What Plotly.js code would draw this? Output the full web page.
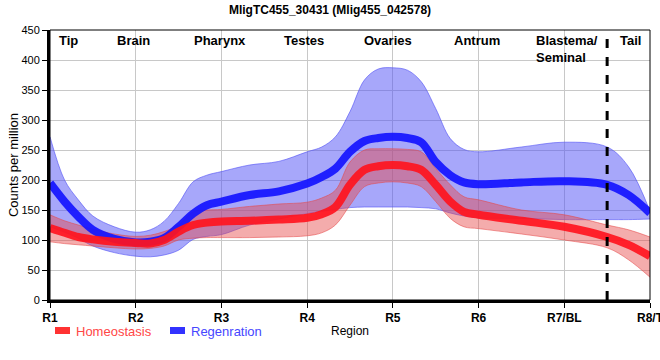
<!DOCTYPE html>
<html>
<head>
<meta charset="utf-8">
<script src="https://cdn.plot.ly/plotly-3.0.1.min.js"></script>
<style>html,body{margin:0;padding:0;background:#fff;}#chart{width:660px;height:360px;}</style>
</head>
<body>
<div id="chart"></div>
<script>
// Region positions (1 = R1 ... 8 = R8/T), sampled between regions
const xPos = [1, 1.17, 1.33, 1.5, 1.75, 2, 2.17, 2.33, 2.5, 2.67, 2.83, 3, 3.33, 3.67, 4, 4.17,
              4.33, 4.5, 4.67, 4.83, 5, 5.17, 5.33, 5.5, 5.67, 5.83, 6, 6.5, 7, 7.5, 7.75, 8];
const tickVals = [1, 2, 3, 4, 5, 6, 7, 8];
const tickLabels = ['R1', 'R2', 'R3', 'R4', 'R5', 'R6', 'R7/BL', 'R8/T'];

// Homeostasis (red)
const homeoMean  = [120, 112, 105, 101, 97, 95, 94, 100, 114, 125, 129, 131, 132, 134, 137, 143,
                    155, 192, 217, 223, 225, 223, 217, 192, 164, 147, 142, 132, 122, 105, 92, 73];
const homeoUpper = [142, 132, 125, 118, 110, 106, 108, 114, 125, 147, 150, 151, 156, 160, 163, 170,
                    183, 230, 250, 252, 252, 251, 247, 219, 192, 172, 167, 150, 142, 125, 117, 105];
const homeoLower = [97, 94, 92, 90, 87, 85, 86, 90, 100, 103, 104, 104, 104, 105, 107, 112,
                    125, 158, 189, 195, 197, 195, 189, 164, 136, 122, 119, 110, 100, 87, 67, 38];

// Regeneration (blue)
const regenMean  = [195, 164, 139, 117, 102, 96, 97, 103, 122, 144, 158, 164, 175, 181, 194, 205,
                    219, 247, 265, 270, 272, 270, 263, 230, 208, 196, 193, 196, 198, 192, 175, 145];
const regenUpper = [272, 200, 167, 140, 122, 113, 117, 131, 161, 197, 208, 214, 225, 231, 247, 255,
                    272, 314, 367, 385, 387, 383, 364, 319, 269, 251, 247, 255, 263, 255, 222, 148];
const regenLower = [122, 113, 103, 90, 79, 73, 72, 75, 83, 101, 106, 109, 125, 135, 144, 148,
                    151, 154, 155, 155, 155, 155, 154, 152, 145, 140, 137, 136, 134, 134, 134, 135];

// Region names on top of the plot
const regionNames = ['Tip', 'Brain', 'Pharynx', 'Testes', 'Ovaries', 'Antrum', 'Tail'];
const regionNamePos = [1.21, 1.97, 2.98, 3.96, 4.94, 5.98, 7.77];
const blastemaLabel = 'Blastema/<br>Seminal';
const blastemaPos = 6.647;
const dividerPos = 7.5;

const FONT = 'Liberation Sans, Arial, sans-serif';
const sm = 1.0;

function band(lower, upper, fill, edge) {
  return [
    {x: xPos, y: lower, mode: 'lines', line: {shape: 'spline', smoothing: sm, width: 1, color: edge},
     hoverinfo: 'skip', showlegend: false},
    {x: xPos, y: upper, mode: 'lines', fill: 'tonexty', fillcolor: fill,
     line: {shape: 'spline', smoothing: sm, width: 1, color: edge}, hoverinfo: 'skip', showlegend: false}
  ];
}

const traces = [
  ...band(regenLower, regenUpper, 'rgba(80,80,245,0.5)', 'rgba(80,80,245,0.6)'),
  ...band(homeoLower, homeoUpper, 'rgba(230,70,70,0.45)', 'rgba(230,70,70,0.55)'),
  {x: xPos, y: regenMean, mode: 'lines', name: 'Regenration',
   line: {shape: 'spline', smoothing: sm, width: 8, color: 'rgba(20,20,255,0.92)'}, showlegend: false},
  {x: xPos, y: homeoMean, mode: 'lines', name: 'Homeostasis',
   line: {shape: 'spline', smoothing: sm, width: 8, color: 'rgba(255,20,30,0.92)'}, showlegend: false}
];

const annotations = regionNames.map((t, i) => ({
  text: '<b>' + t + '</b>', x: regionNamePos[i], xref: 'x', y: 1, yref: 'paper',
  yanchor: 'top', yshift: -1, showarrow: false, font: {family: FONT, size: 13, color: '#000'}
}));
annotations.push({
  text: '<b>' + blastemaLabel + '</b>', x: blastemaPos, xref: 'x', xanchor: 'left', align: 'left',
  y: 1, yref: 'paper', yanchor: 'top', yshift: -1, showarrow: false,
  font: {family: FONT, size: 13, color: '#000'}
});
// legend labels
annotations.push({text: 'Homeostasis', x: 0.04, xref: 'paper', xanchor: 'left', y: -0.115, yref: 'paper',
  yanchor: 'middle', showarrow: false, font: {family: FONT, size: 13, color: 'rgb(255,70,70)'}});
annotations.push({text: 'Regenration', x: 0.2317, xref: 'paper', xanchor: 'left', y: -0.115, yref: 'paper',
  yanchor: 'middle', showarrow: false, font: {family: FONT, size: 13, color: 'rgb(70,70,255)'}});

const shapes = [
  {type: 'rect', xref: 'paper', yref: 'paper', x0: 0, x1: 1, y0: 0, y1: 1, line: {color: '#000', width: 1}, layer: 'above'},
  {type: 'line', xref: 'x', yref: 'paper', x0: dividerPos, x1: dividerPos, y0: 0, y1: 1,
   line: {color: '#000', width: 3, dash: 'dash'}, layer: 'above'},
  {type: 'rect', xref: 'paper', yref: 'paper', x0: 0.0083, x1: 0.0333, y0: -0.1, y1: -0.126,
   fillcolor: 'rgb(255,50,50)', line: {width: 0}},
  {type: 'rect', xref: 'paper', yref: 'paper', x0: 0.2, x1: 0.225, y0: -0.1, y1: -0.126,
   fillcolor: 'rgb(50,50,255)', line: {width: 0}}
];

const layout = {
  width: 660, height: 360,
  margin: {l: 50, r: 10, t: 30, b: 60},
  paper_bgcolor: '#fff', plot_bgcolor: '#fff',
  title: {text: '<b>MligTC455_30431 (Mlig455_042578)</b>', x: 0.5, xref: 'container',
          y: 0.972, yref: 'container', yanchor: 'middle', font: {family: FONT, size: 12, color: '#000'}},
  xaxis: {
    range: [1, 8], tickvals: tickVals, ticktext: tickLabels.map(s => '<b>' + s + '</b>'),
    ticklabeloverflow: 'allow',
    showgrid: true, gridcolor: '#c8c8c8', gridwidth: 1, zeroline: false,
    showline: true, linecolor: '#000', linewidth: 3,
    ticks: 'outside', ticklen: 5, tickwidth: 1, tickcolor: '#000',
    tickfont: {family: FONT, size: 12, color: '#000'},
    title: {text: 'Region', font: {family: FONT, size: 12, color: '#000'}, standoff: 3}
  },
  yaxis: {
    range: [0, 450], tickvals: [0, 50, 100, 150, 200, 250, 300, 350, 400, 450],
    showgrid: true, gridcolor: '#c8c8c8', gridwidth: 1, zeroline: false,
    showline: true, linecolor: '#000', linewidth: 3,
    ticks: 'outside', ticklen: 5, tickwidth: 1, tickcolor: '#000',
    tickfont: {family: FONT, size: 11, color: '#000'},
    title: {text: 'Counts per million', font: {family: FONT, size: 13, color: '#000'}, standoff: 0}
  },
  annotations: annotations,
  shapes: shapes,
  showlegend: false
};

Plotly.newPlot('chart', traces, layout, {displayModeBar: false, staticPlot: true});
</script>
</body>
</html>
